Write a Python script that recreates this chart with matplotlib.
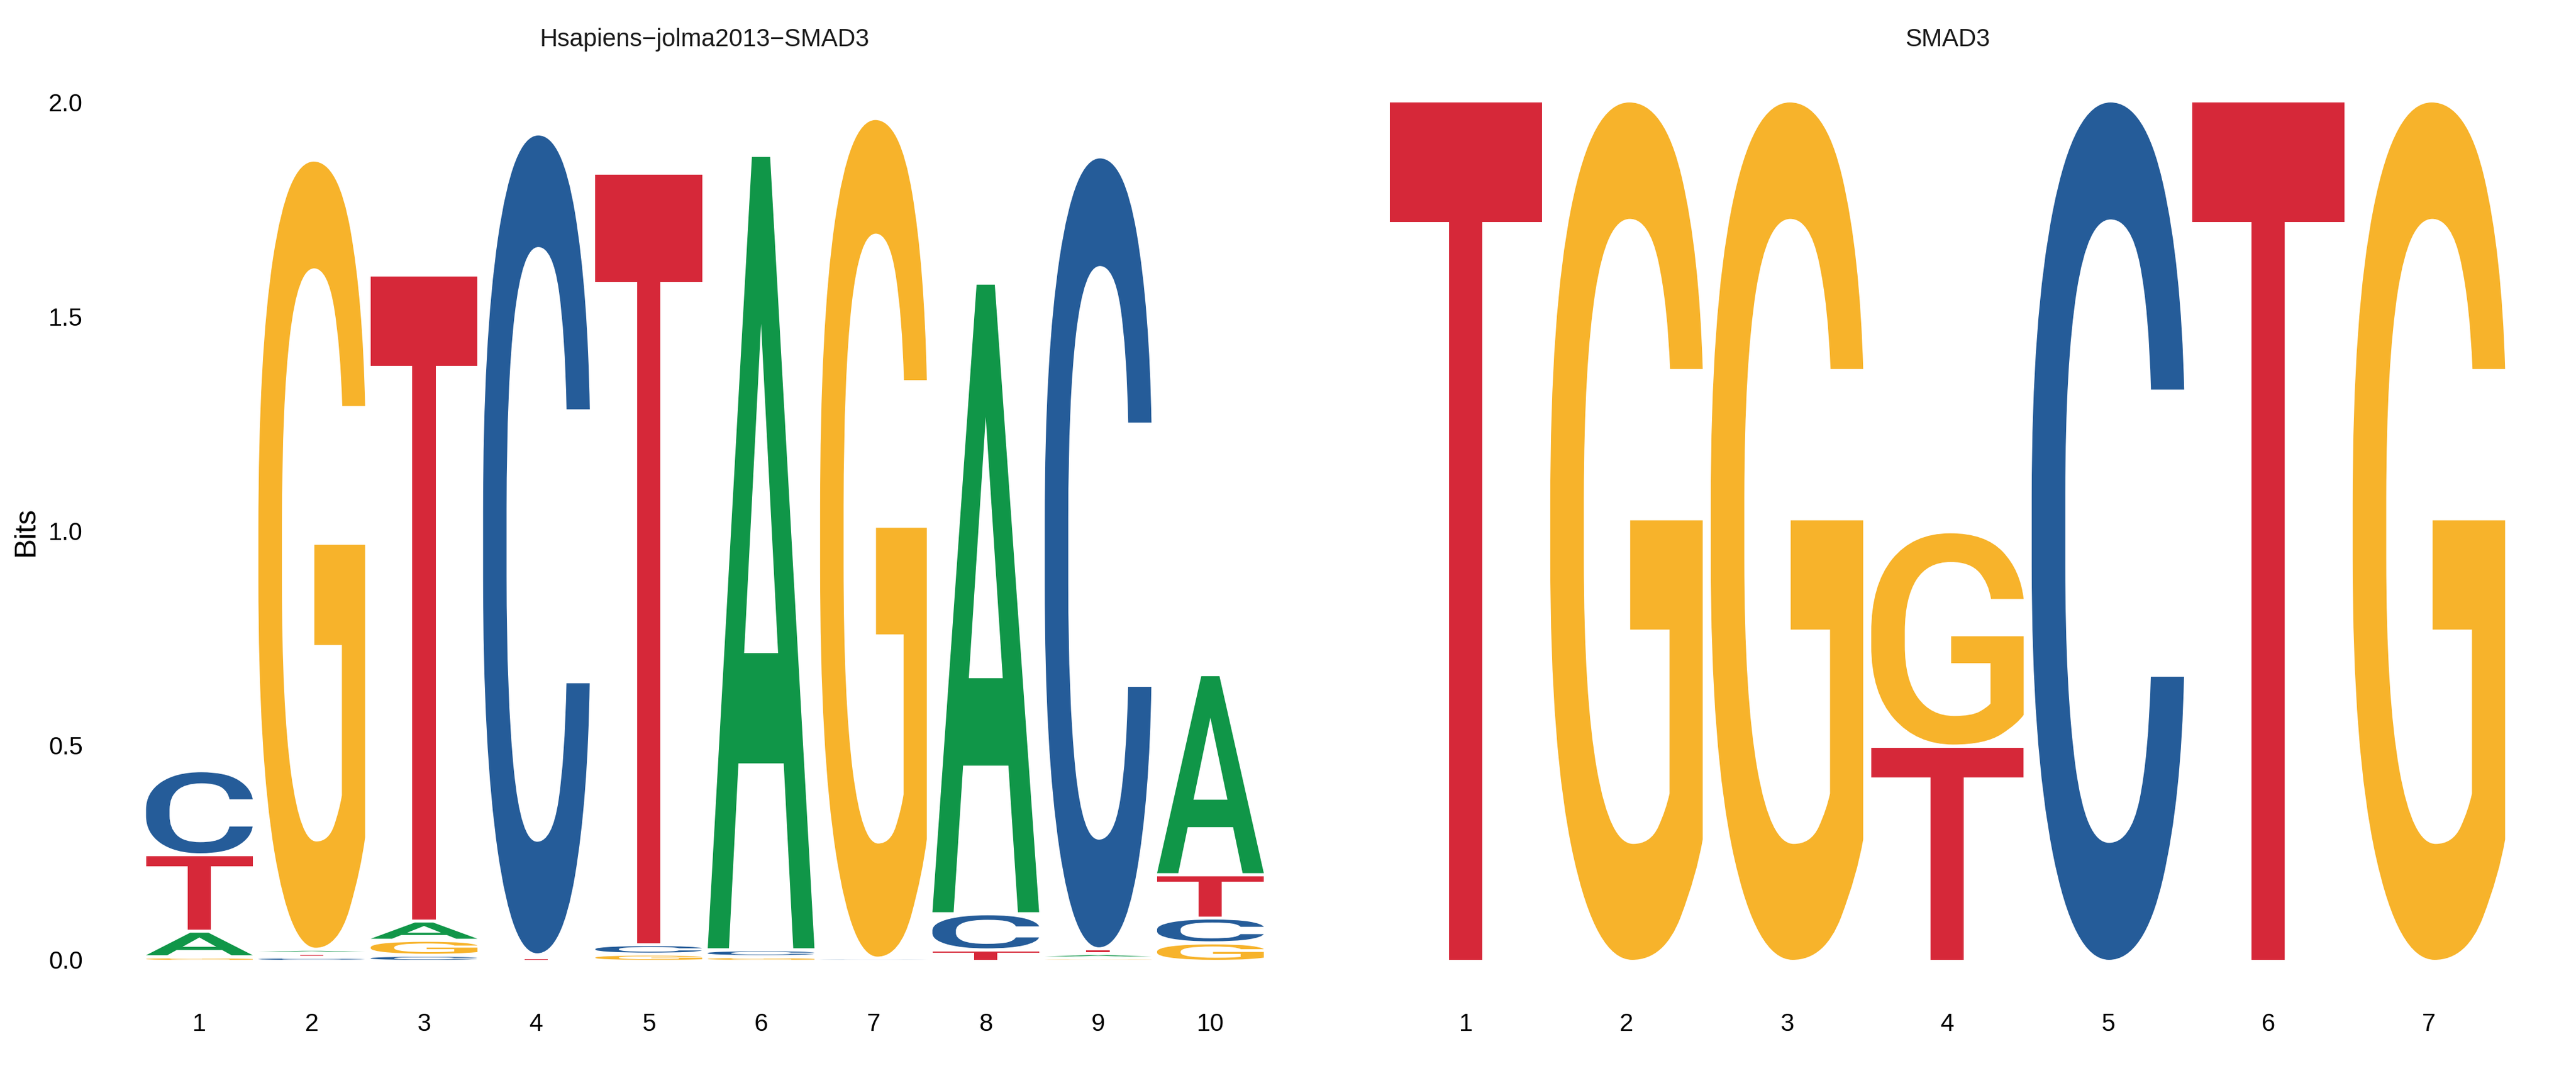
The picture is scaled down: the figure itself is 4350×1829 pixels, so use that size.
import matplotlib
matplotlib.use("Agg")
import matplotlib.pyplot as plt
from matplotlib.textpath import TextPath
from matplotlib.patches import PathPatch
from matplotlib.font_manager import FontProperties
from matplotlib.transforms import Affine2D

# ---------------- data ----------------
letters = ["A", "C", "G", "T"]
letter_colors = {"A": "#109648", "C": "#255C99", "G": "#F7B32B", "T": "#D62839"}

left_title = "Hsapiens\u2212jolma2013\u2212SMAD3"
left_positions = [1, 2, 3, 4, 5, 6, 7, 8, 9, 10]
left_A = [0.0598, 0.0094, 0.045, 0.003, 0.0, 1.853, 0.0, 1.471, 0.0105, 0.4666]
left_C = [0.1962, 0.003, 0.007, 1.915, 0.0223, 0.0158, 0.0003, 0.0844, 1.8475, 0.058]
left_G = [0.0035, 1.841, 0.035, 0.003, 0.0097, 0.004, 1.9587, 0.0, 0.0005, 0.036]
left_T = [0.1781, 0.0086, 1.507, 0.002, 1.799, 0.0, 0.0, 0.0195, 0.011, 0.101]

right_title = "SMAD3"
right_positions = [1, 2, 3, 4, 5, 6, 7]
right_A = [0.0, 0.0, 0.0, 0.0, 0.0, 0.0, 0.0]
right_C = [0.0, 0.0, 0.0, 0.0, 2.0, 0.0, 0.0]
right_G = [0.0, 2.0, 2.0, 0.50, 0.0, 0.0, 2.0]
right_T = [2.0, 0.0, 0.0, 0.495, 0.0, 2.0, 0.0]

y_ticks = [0.0, 0.5, 1.0, 1.5, 2.0]
y_tick_labels = ["0.0", "0.5", "1.0", "1.5", "2.0"]
y_label = "Bits"

# ---------------- style ----------------
W, H, DPI = 4350, 1829, 300
LETTER_W = 0.95
GAP = 0.0072
TXT = "Liberation Sans"
letter_font = FontProperties(family="Roboto", weight=500)

fig = plt.figure(figsize=(W / DPI, H / DPI), dpi=DPI)
fig.patch.set_facecolor("white")

ax_w = 1897 / W
ax_h = (1693.4 - 100.6) / H
ax_y0 = (H - 1693.4) / H
axL = fig.add_axes([241.9 / W, ax_y0, ax_w, ax_h])
axR = fig.add_axes([2340.1 / W, ax_y0, ax_w, ax_h])

_glyph_cache = {}


def glyph(ch):
    if ch not in _glyph_cache:
        tp = TextPath((0, 0), ch, size=1, prop=letter_font)
        _glyph_cache[ch] = (tp, tp.get_extents())
    return _glyph_cache[ch]


def draw_letter(ax, ch, x, bottom, top):
    tp, bb = glyph(ch)
    tr = (Affine2D()
          .translate(-bb.x0, -bb.y0)
          .scale(LETTER_W / bb.width, (top - bottom) / bb.height)
          .translate(x - LETTER_W / 2, bottom))
    ax.add_patch(PathPatch(tr.transform_path(tp), facecolor=letter_colors[ch],
                           edgecolor="none", lw=0))


def draw_logo(ax, positions, A, C, G, T):
    vals = {"A": A, "C": C, "G": G, "T": T}
    for i, x in enumerate(positions):
        items = [(vals[l][i], l) for l in letters if vals[l][i] > 0]
        items.sort(key=lambda t: t[0])
        y = 0.0
        for k, (h, l) in enumerate(items):
            bottom = y + (GAP if k > 0 else 0.0)
            top = y + h
            if top - bottom > 0:
                draw_letter(ax, l, x, bottom, top)
            y = top


draw_logo(axL, left_positions, left_A, left_C, left_G, left_T)
draw_logo(axR, right_positions, right_A, right_C, right_G, right_T)

for ax, pos, title in [(axL, left_positions, left_title), (axR, right_positions, right_title)]:
    ax.set_xlim(0.5, len(pos) + 0.5)
    ax.set_ylim(-0.1, 2.1)
    for s in ax.spines.values():
        s.set_visible(False)
    ax.set_xticks(pos)
    ax.set_xticklabels([str(p) for p in pos], fontsize=10, family=TXT, color="black")
    ax.tick_params(axis="x", length=0, pad=4.0)
    ax.set_title(title, fontsize=10, family=TXT, color="#1A1A1A", pad=5.4)
    ax.set_facecolor("white")

axL.set_yticks(y_ticks)
axL.set_yticklabels(y_tick_labels, fontsize=10, family=TXT, color="black")
axL.tick_params(axis="y", length=0, pad=24.5)
axR.set_yticks([])

fig.text(43.5 / W, 1 - 897 / H, y_label, rotation=90, ha="center", va="center",
         fontsize=12, family=TXT, color="black")

fig.savefig("out.png", dpi=DPI, facecolor="white")
